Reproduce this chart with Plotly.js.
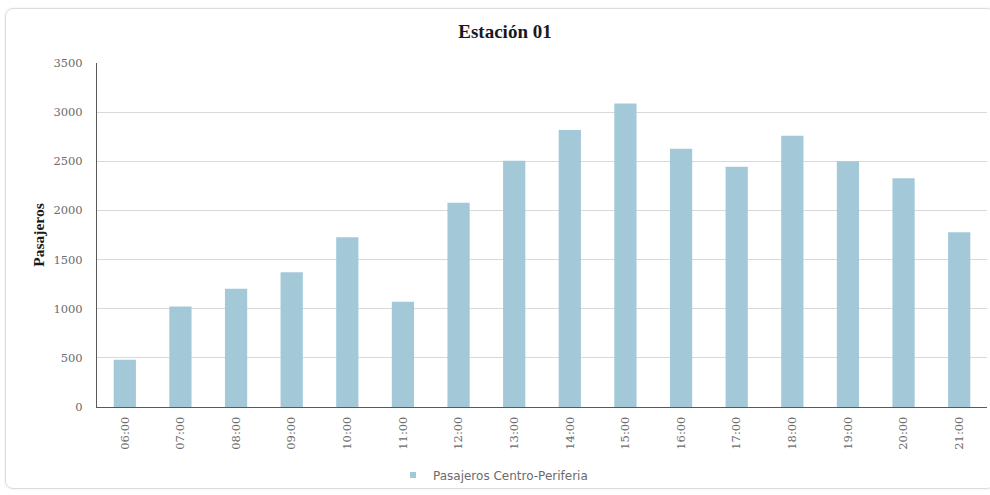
<!DOCTYPE html>
<html>
<head>
<meta charset="utf-8">
<script src="https://cdn.plot.ly/plotly-3.0.1.min.js"></script>
<style>
  html, body { margin: 0; padding: 0; background: #ffffff; }
  #wrap { position: relative; width: 990px; height: 495px; }
  #chart { position: absolute; left: 0; top: 0; width: 990px; height: 495px; }
  #frame { position: absolute; left: 5px; top: 8px; width: 990px; height: 481px;
           border: 1px solid #dcdcdc; border-radius: 8px; box-sizing: border-box;
           pointer-events: none; box-shadow: 0 0 3px rgba(0,0,0,0.08); }
</style>
</head>
<body>
<div id="wrap">
  <div id="chart"></div>
  <div id="frame"></div>
</div>
<script>
const horas = ["06:00","07:00","08:00","09:00","10:00","11:00","12:00","13:00",
               "14:00","15:00","16:00","17:00","18:00","19:00","20:00","21:00"];
const pasajeros = [480, 1022, 1202, 1372, 1728, 1070, 2079, 2506,
                   2818, 3089, 2628, 2445, 2760, 2500, 2327, 1778];
const serieNombre = "Pasajeros Centro-Periferia";
const yTicks = [0, 500, 1000, 1500, 2000, 2500, 3000, 3500];
const barColor = '#a3c9d9';

const barTrace = {
  type: 'bar',
  x: horas,
  y: pasajeros,
  name: serieNombre,
  legendgroup: 'g1',
  marker: { color: barColor },
  showlegend: false,
  hoverinfo: 'x+y'
};

// legend entry (small square key, as in the reference)
const legendKey = {
  type: 'scatter',
  mode: 'markers',
  x: [horas[0]],
  y: [null],
  name: serieNombre,
  legendgroup: 'g1',
  marker: { symbol: 'square', size: 6, color: barColor },
  showlegend: true,
  hoverinfo: 'skip'
};

const tickFont = { family: 'DejaVu Serif, serif', size: 11.5, color: '#6b6b6b' };

const layout = {
  width: 990, height: 495,
  paper_bgcolor: '#ffffff', plot_bgcolor: '#ffffff',
  margin: { l: 97, r: 3, t: 63, b: 88 },
  bargap: 0.6,
  title: {
    text: '<b>Estación 01</b>',
    font: { family: 'Liberation Serif, Times New Roman, serif', size: 19, color: '#1a1a1a' },
    x: 505/990, xref: 'container', xanchor: 'center',
    y: 1 - 31/495, yref: 'container', yanchor: 'middle'
  },
  xaxis: {
    type: 'category',
    range: [-0.5, horas.length - 0.5],
    autorange: false,
    tickangle: -90,
    tickfont: tickFont,
    showline: true, linecolor: '#595959', linewidth: 1,
    ticks: '', showgrid: false,
    ticklabelstandoff: 4
  },
  yaxis: {
    range: [0, 3500],
    autorange: false,
    tickvals: yTicks,
    ticktext: yTicks.map(String),
    tickfont: tickFont,
    showline: true, linecolor: '#595959', linewidth: 1,
    gridcolor: '#d9d9d9', gridwidth: 1,
    zeroline: false,
    ticks: '',
    ticklabelstandoff: 11,
    title: {
      text: '<b>Pasajeros</b>',
      font: { family: 'Liberation Serif, Times New Roman, serif', size: 15.5, color: '#1a1a1a' },
      standoff: 4
    }
  },
  legend: {
    orientation: 'h',
    x: 393/990, xref: 'container', xanchor: 'left',
    y: 1 - 475/495, yref: 'container', yanchor: 'middle',
    font: { family: 'DejaVu Sans, sans-serif', size: 12, color: '#6b6b6b' },
    itemwidth: 30
  }
};

Plotly.newPlot('chart', [barTrace, legendKey], layout, { displayModeBar: false, staticPlot: true });
</script>
</body>
</html>
